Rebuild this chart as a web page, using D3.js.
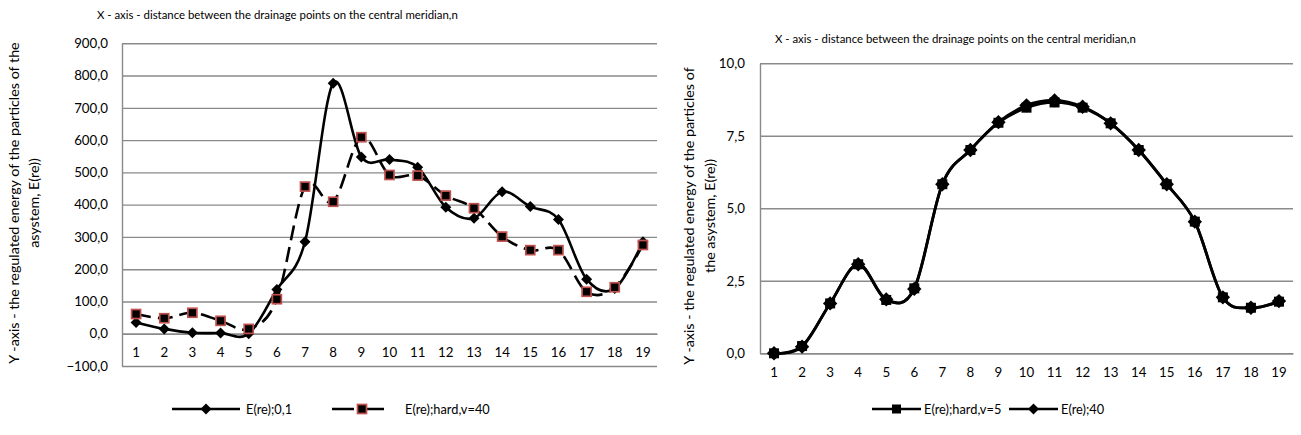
<!DOCTYPE html>
<html>
<head>
<meta charset="utf-8">
<script src="https://cdn.jsdelivr.net/npm/d3@7"></script>
<style>
  html, body { margin: 0; padding: 0; background: #fff; }
  svg { display: block; }
  text { font-family: Lato, "Open Sans", sans-serif; fill: #000; }
</style>
</head>
<body>
<svg id="chart" width="1301" height="435"></svg>
<script>
// ---------- DATA ----------
const categories = ["1","2","3","4","5","6","7","8","9","10","11","12","13","14","15","16","17","18","19"];

const leftSeriesNames = ["E(re);0,1", "E(re);hard,v=40"];
const leftSeries1 = [35, 15, 3, 2, 0, 137, 285, 776, 548, 540, 516, 392, 358, 440, 394, 354, 169, 140, 285];
const leftSeries2 = [61, 48, 65, 40, 15, 107, 456, 409, 609, 492, 490, 428, 389, 301, 259, 259, 130, 144, 275];
const leftYTicks = [-100, 0, 100, 200, 300, 400, 500, 600, 700, 800, 900];

const rightSeriesNames = ["E(re);hard,v=5", "E(re);40"];
const rightSeriesA = [0, 0.25, 1.72, 3.07, 1.84, 2.24, 5.83, 7.01, 7.95, 8.47, 8.65, 8.47, 7.93, 7.01, 5.83, 4.54, 1.93, 1.57, 1.78];
const rightSeriesB = [0, 0.23, 1.72, 3.07, 1.86, 2.22, 5.83, 7.01, 7.97, 8.55, 8.72, 8.50, 7.93, 7.01, 5.83, 4.54, 1.93, 1.57, 1.80];
const rightYTicks = [0, 2.5, 5, 7.5, 10];

const xTitle = "X - axis - distance between the drainage points on the central meridian,n";
const leftYTitle = ["Y -axis - the regulated energy of the particles of the", "asystem, E(re))"];
const rightYTitle = ["Y -axis - the regulated energy of the particles of", "the asystem, E(re))"];

// ---------- HELPERS ----------
const svg = d3.select("#chart");
const GRID = "#8a8a8a";
const fmt = d => d3.format(".1f")(d).replace(".", ",");
const curve = d3.curveCatmullRom.alpha(0);

function drawDiamond(g, x, y, s) {
  g.append("path")
    .attr("d", `M${x},${y - s}L${x + s},${y}L${x},${y + s}L${x - s},${y}Z`)
    .attr("fill", "#000");
}
function drawSquare(g, x, y, s, stroke, sw) {
  g.append("rect")
    .attr("x", x - s / 2).attr("y", y - s / 2)
    .attr("width", s).attr("height", s)
    .attr("fill", "#000")
    .attr("stroke", stroke).attr("stroke-width", sw);
}

function buildPanel(opts) {
  const g = svg.append("g");
  const x = d3.scaleBand().domain(categories).range([opts.x0, opts.x1]).padding(0);
  const y = d3.scaleLinear().domain(opts.domain).range([opts.yBottom, opts.yTop]);
  const cx = c => x(c) + x.bandwidth() / 2;

  const grid = g.append("g").attr("transform", `translate(${opts.x0},0)`)
    .call(d3.axisLeft(y).tickValues(opts.ticks).tickSize(-(opts.x1 - opts.x0)).tickFormat(""));
  grid.select(".domain").remove();
  grid.selectAll("line").attr("stroke", GRID).attr("stroke-width", 1.4);

  const ya = g.append("g").attr("transform", `translate(${opts.x0},0)`)
    .call(d3.axisLeft(y).tickValues(opts.ticks).tickSize(0).tickPadding(opts.yPad).tickFormat(fmt));
  ya.select(".domain").attr("stroke", GRID).attr("stroke-width", 1.4);
  ya.selectAll("text").style("font-size", "13.3px").style("font-family", "Lato");

  const xa = g.append("g").attr("transform", `translate(0,${y(0)})`)
    .call(d3.axisBottom(x).tickSize(0).tickSizeOuter(0).tickPadding(14));
  xa.select(".domain").attr("stroke", GRID).attr("stroke-width", 1.4);
  xa.selectAll("text").style("font-size", "13.3px").style("font-family", "Lato");

  return { g, x, y, cx };
}

// ---------- LEFT PANEL ----------
const L = buildPanel({ x0: 122, x1: 657, yTop: 43.3, yBottom: 366, domain: [-100, 900], ticks: leftYTicks, yPad: 14 });
{
  const line = d3.line().x((d, i) => L.cx(categories[i])).y(d => L.y(d)).curve(curve);
  L.g.append("path").datum(leftSeries2).attr("d", line)
    .attr("fill", "none").attr("stroke", "#000").attr("stroke-width", 2.6)
    .attr("stroke-dasharray", "15,7");
  L.g.append("path").datum(leftSeries1).attr("d", line)
    .attr("fill", "none").attr("stroke", "#000").attr("stroke-width", 2.6);
  leftSeries1.forEach((v, i) => drawDiamond(L.g, L.cx(categories[i]), L.y(v), 5.5));
  leftSeries2.forEach((v, i) => drawSquare(L.g, L.cx(categories[i]), L.y(v), 9, "#c0504d", 1.7));
}

// ---------- RIGHT PANEL ----------
const R = buildPanel({ x0: 760, x1: 1293, yTop: 63.3, yBottom: 353.3, domain: [0, 10], ticks: rightYTicks, yPad: 15 });
{
  const line = d3.line().x((d, i) => R.cx(categories[i])).y(d => R.y(d)).curve(curve);
  R.g.append("path").datum(rightSeriesA).attr("d", line)
    .attr("fill", "none").attr("stroke", "#000").attr("stroke-width", 2.8);
  R.g.append("path").datum(rightSeriesB).attr("d", line)
    .attr("fill", "none").attr("stroke", "#000").attr("stroke-width", 2.8);
  rightSeriesA.forEach((v, i) => drawSquare(R.g, R.cx(categories[i]), R.y(v), 10, "#000", 0));
  rightSeriesB.forEach((v, i) => drawDiamond(R.g, R.cx(categories[i]), R.y(v), 7.2));
}

// ---------- TITLES ----------
svg.append("text").attr("x", 97).attr("y", 19).style("font-size", "11.4px").text(xTitle);
svg.append("text").attr("x", 775).attr("y", 43).style("font-size", "11.4px").text(xTitle);

function yTitle(lines, x1, x2, cy) {
  [x1, x2].forEach((xx, i) => {
    svg.append("text")
      .attr("transform", `translate(${xx},${cy}) rotate(-90)`)
      .attr("text-anchor", "middle").attr("dominant-baseline", "central")
      .style("font-size", "14.3px").text(lines[i]);
  });
}
yTitle(leftYTitle, 13, 33, 203);
yTitle(rightYTitle, 688, 709, 216);

// ---------- LEGENDS ----------
function legendItem(x1, x2, textX, y, label, marker, dashed) {
  const g = svg.append("g");
  g.append("line").attr("x1", x1).attr("x2", x2).attr("y1", y).attr("y2", y)
    .attr("stroke", "#000").attr("stroke-width", 2.6)
    .attr("stroke-dasharray", dashed ? "22,8" : null);
  const mx = (x1 + x2) / 2;
  if (marker === "diamond") drawDiamond(g, mx, y, 5.5);
  else if (marker === "squareRed") drawSquare(g, mx, y, 9, "#c0504d", 1.7);
  else drawSquare(g, mx, y, 9, "#000", 0);
  g.append("text").attr("x", textX).attr("y", y).attr("dominant-baseline", "central")
    .style("font-size", "12.8px").text(label);
}
legendItem(172, 240, 246, 409, leftSeriesNames[0], "diamond", false);
legendItem(332, 392, 405, 409, leftSeriesNames[1], "squareRed", true);
legendItem(872, 921, 924, 409, rightSeriesNames[0], "square", false);
legendItem(1009, 1058, 1061, 409, rightSeriesNames[1], "diamond", false);
</script>
</body>
</html>
